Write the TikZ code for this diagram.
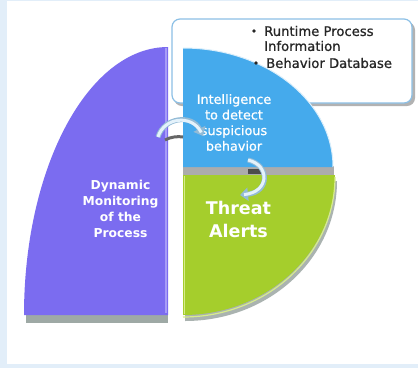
\documentclass[tikz,border=0pt]{standalone}
\usepackage{fontspec}
\setmainfont{DejaVu Sans}
\newfontfamily\semibfont[FakeBold=0.8]{DejaVu Sans}
\usetikzlibrary{arrows.meta}
\definecolor{bgblue}{HTML}{E2EEF9}
\definecolor{purp}{HTML}{7B6CF0}
\definecolor{purpedge}{HTML}{A79CF7}
\definecolor{skyb}{HTML}{45AAEC}
\definecolor{limeg}{HTML}{A5CE2C}
\definecolor{limeedge}{HTML}{D7EC8C}
\definecolor{boxline}{HTML}{8CC0E6}
\definecolor{arrowfill}{HTML}{E4F2FB}
\definecolor{arrowline}{HTML}{93BBD6}
\definecolor{shadowc}{HTML}{8E9A96}
\tikzset{
  whitetext/.style={text=white, align=center, inner sep=0pt, font=\bfseries\fontsize{12.3}{16}\selectfont},
  inteltext/.style={text=white, align=center, inner sep=0pt, font=\semibfont\fontsize{12.8}{15.6}\selectfont},
  bigtext/.style={text=white, align=center, inner sep=0pt, font=\bfseries\fontsize{17.5}{23}\selectfont},
  bullettext/.style={text=black!85, align=left, font=\semibfont\fontsize{13.2}{15}\selectfont, inner sep=0pt, anchor=west},
  flowarrow/.style={line width=5pt, draw=arrowline, -{Triangle[length=8pt,width=13pt]}},
  flowarrowin/.style={line width=3pt, draw=arrowfill, shorten >=4pt},
}
\begin{document}
\begin{tikzpicture}[x=1pt,y=-1pt]
\useasboundingbox (0,0) rectangle (418,368);
% background
\fill[bgblue] (0,0) rectangle (418,368);
\fill[white] (7,1) rectangle (418,364);
% info box shadow and box
\fill[gray!60, rounded corners=8] (174,22) rectangle (415,106);
\filldraw[fill=white, draw=boxline, line width=1.2pt, rounded corners=8] (172,19) rectangle (412,103);
% shadows under shapes
\fill[shadowc, opacity=0.85] (26,315) rectangle (168,323);
\fill[shadowc, opacity=0.75, shift={(2,6)}] (183,175) -- (335,175) arc[start angle=0, end angle=90, x radius=152, y radius=140] -- cycle;
% purple segment
\fill[purp] (24,315) arc[start angle=180, end angle=270, x radius=144, y radius=268] -- (168,315) -- cycle;
\draw[purpedge, line width=1.2pt] (166,48) -- (166,313);
% gap band
\fill[gray!65] (183,166) rectangle (334,176);
\fill[black!70] (248,169) rectangle (262,174);
% blue segment
\fill[skyb] (183,167) -- (183,48) arc[start angle=270, end angle=360, x radius=150, y radius=119] -- cycle;
\draw[white!80!skyb, line width=1pt] (183,48) arc[start angle=270, end angle=360, x radius=150, y radius=119];
% green segment
\fill[limeg] (183,175) -- (335,175) arc[start angle=0, end angle=90, x radius=152, y radius=140] -- cycle;
\draw[limeedge, line width=1.2pt] (335,177) arc[start angle=0, end angle=90, x radius=152, y radius=140];
\draw[limeedge, line width=1.2pt] (184.5,176) -- (184.5,314);
% texts
\node[bullettext] (b1) at (264,38.5) {Runtime Process\\Information};
\node[bullettext] (b2) at (266,63) {Behavior Database};
\fill[black!85] (254,31) circle (1.8pt);
\fill[black!85] (256,63) circle (1.8pt);
\node[inteltext] (intel) at (234,122.5) {Intelligence\\to detect\\suspicious\\behavior};
\node[whitetext] (dyn) at (120.5,209) {Dynamic\\Monitoring\\of the\\Process};
\node[bigtext] (threat) at (238.5,219.5) {Threat\\Alerts};
% arrow anchors
\coordinate (a1s) at (158,137);
\coordinate (a1e) at (203,136);
\coordinate (a2s) at (248,160);
\coordinate (a2e) at (240,195);
% arrow 1 shadow
\draw[black!60, line width=3pt] (165,140) .. controls (170,137) and (178,136) .. (183,137);
% arrows
\draw[flowarrow] (a1s) .. controls (164,117) and (192,114) .. (a1e);
\draw[flowarrowin] (a1s) .. controls (164,117) and (192,114) .. (a1e);
\draw[flowarrow] (a2s) .. controls (270,165) and (270,192) .. (a2e);
\draw[flowarrowin] (a2s) .. controls (270,165) and (270,192) .. (a2e);
\end{tikzpicture}
\end{document}
